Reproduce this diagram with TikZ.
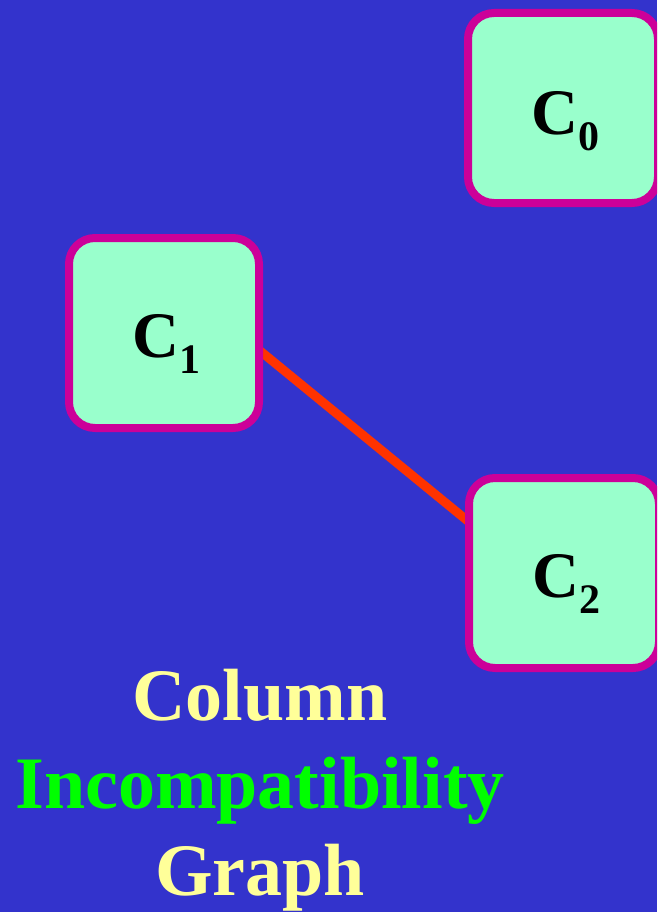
\documentclass[tikz,border=0pt]{standalone}
\usepackage{fontspec}
\setmainfont{Liberation Serif}
\usetikzlibrary{calc}
\definecolor{bgblue}{HTML}{3333CC}
\definecolor{boxfill}{HTML}{99FFCC}
\definecolor{boxedge}{HTML}{CC0099}
\definecolor{edgered}{HTML}{FF3300}
\definecolor{ttyellow}{HTML}{FFFF99}
\definecolor{ttgreen}{HTML}{00FF00}
\tikzset{
  colbox/.style={draw=boxedge, fill=boxfill, line width=8pt, rounded corners=26pt,
    minimum width=190pt, minimum height=190pt, inner sep=0pt},
  collabel/.style={anchor=base west, inner sep=0pt, font=\bfseries\fontsize{65}{65}\selectfont},
  titletext/.style={anchor=base, inner sep=0pt, font=\bfseries\fontsize{74}{74}\selectfont},
  conflict/.style={draw=edgered, line width=9pt}
}
\newcommand{\colname}[1]{C\raisebox{-16pt}{\fontsize{42}{42}\selectfont #1}}
\begin{document}
\begin{tikzpicture}[x=1pt,y=-1pt]
\fill[bgblue] (0,0) rectangle (657,912);
\useasboundingbox (0,0) rectangle (657,912);
\clip (0,0) rectangle (657,912);
\coordinate (C0c) at (563,108);
\coordinate (C1c) at (164,333);
\coordinate (C2c) at (564,573);
\draw[conflict] ($(C1c)+(95,17)$) -- ($(C2c)+(-95,-51)$);
\node[colbox] (C0) at (C0c) {};
\node[colbox] (C1) at (C1c) {};
\node[colbox] (C2) at (C2c) {};
\node[collabel] (L0) at (531,135) {\colname{0}};
\node[collabel] (L1) at (132,357) {\colname{1}};
\node[collabel] (L2) at (532,597) {\colname{2}};
\node[titletext, text=ttyellow] (T1) at (260,720) {Column};
\node[titletext, text=ttgreen] (T2) at (260,808) {Incompatibility};
\node[titletext, text=ttyellow] (T3) at (260,895) {Graph};
\end{tikzpicture}
\end{document}
